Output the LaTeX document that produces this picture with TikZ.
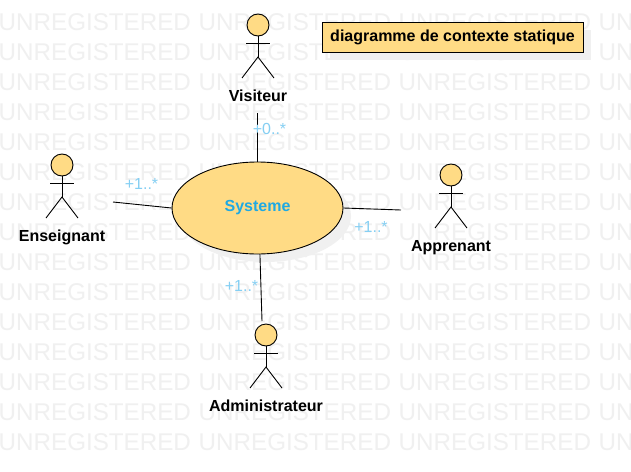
\documentclass[tikz,border=0pt]{standalone}
\usepackage{fontspec}
\setmainfont{Liberation Sans}
\usepackage{xcolor}
\usetikzlibrary{shapes,shadows}
\definecolor{umlfill}{HTML}{FFDB85}
\definecolor{multblue}{HTML}{85CFF3}
\definecolor{sysblue}{HTML}{1FA9E3}
\definecolor{wmgray}{HTML}{F0F0F0}
\tikzset{
  wmtext/.style={text=wmgray, font=\fontsize{24.2}{24.2}\selectfont, inner sep=0pt, anchor=west},
  actorhead/.style={circle, draw=black, fill=umlfill, line width=0.9pt, minimum size=22pt, inner sep=0pt},
  actorlabel/.style={font=\fontsize{16}{16}\selectfont\bfseries, inner sep=1pt},
  multlabel/.style={text=multblue, font=\fontsize{16}{16}\selectfont, inner sep=0pt},
  limb/.style={draw=black, line width=0.9pt},
  assoc/.style={draw=black, line width=0.9pt}
}
\newcommand{\drawactor}[3]{
  \node[actorhead] (#1head) at (#2,#3) {};
  \coordinate (#1hip) at (#2,#3+32);
  \draw[limb] (#1head.south) -- (#1hip);
  \draw[limb] (#2-12,#3+18) -- (#2+12,#3+18);
  \draw[limb] (#2-16,#3+53) -- (#1hip) -- (#2+16,#3+53);
}

\begin{document}
\begin{tikzpicture}[x=1pt,y=-1pt]
  \useasboundingbox (0,0) rectangle (631,471);
  \fill[white] (0,0) rectangle (631,471);

  % Watermark rows
  \foreach \r in {0,...,14}
    \foreach \c in {0,...,3}
      \node[wmtext] (wm\r\c) at (\c*200-1.5,22+\r*30) {UNREGISTERED};

  % System
  \node[ellipse, draw=black, fill=umlfill, line width=0.9pt, minimum width=171pt, minimum height=92pt,
    inner sep=0pt, text=sysblue, font=\fontsize{16}{16}\selectfont\bfseries,
    drop shadow={shadow xshift=8pt, shadow yshift=-8pt, fill=black!6, opacity=1}]
    (sys) at (257.5,208) {\raisebox{-3.5pt}{Systeme}};

  % Title
  \node[draw=black, fill=umlfill, line width=0.9pt, minimum width=261pt, minimum height=30pt, inner sep=0pt,
    font=\fontsize{16}{16}\selectfont\bfseries,
    drop shadow={shadow xshift=8pt, shadow yshift=-8pt, fill=black!6, opacity=1}]
    (title) at (452.5,37) {\raisebox{-3pt}{diagramme de contexte statique}};

  % Actors
  \drawactor{visiteur}{258}{25}
  \node[actorlabel] (visiteurlabel) at (258,95.5) {Visiteur};
  \drawactor{enseignant}{62}{165}
  \node[actorlabel] (enseignantlabel) at (62,237) {Enseignant};
  \drawactor{apprenant}{451}{175}
  \node[actorlabel] (apprenantlabel) at (451,247.5) {Apprenant};
  \drawactor{admin}{266}{335}
  \node[actorlabel] (adminlabel) at (266,405.5) {Administrateur};

  % Free ends of the associations
  \coordinate (visiteurend) at (257.5,113);
  \coordinate (enseignantend) at (113,202);
  \coordinate (apprenantend) at (401,210);
  \coordinate (adminend) at (262,321);

  % Associations
  \draw[assoc] (visiteurend) -- (sys.north);
  \draw[assoc] (enseignantend) -- (sys.west);
  \draw[assoc] (apprenantend) -- (sys.east);
  \draw[assoc] (adminend) -- (sys.273);

  % Multiplicities
  \node[multlabel] (multvisiteur) at (269.5,129) {+0..*};
  \node[multlabel] (multenseignant) at (141.5,184) {+1..*};
  \node[multlabel] (multapprenant) at (371,227) {+1..*};
  \node[multlabel] (multadmin) at (241.5,286) {+1..*};
\end{tikzpicture}
\end{document}
